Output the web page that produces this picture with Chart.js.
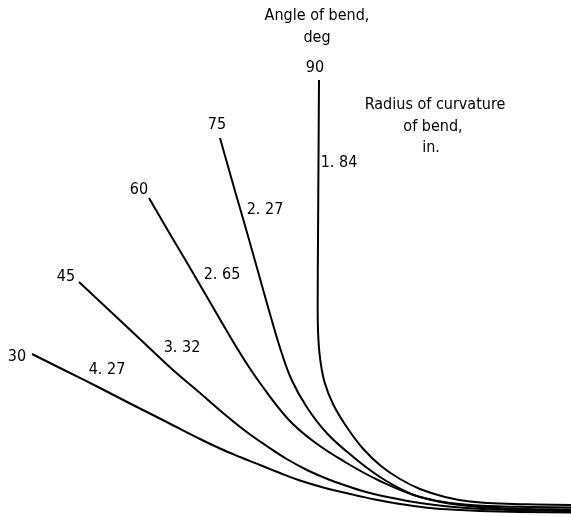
<!DOCTYPE html>
<html>
<head>
<meta charset="utf-8">
<script src="https://cdn.jsdelivr.net/npm/chart.js@4/dist/chart.umd.min.js"></script>
<style>
  html, body { margin: 0; padding: 0; background: #fff; }
  #wrap { width: 571px; height: 517px; }
</style>
</head>
<body>
<div id="wrap"><canvas id="chart" width="571" height="517"></canvas></div>
<script>
// bend angles (deg) and radius of curvature (in.)
const angles = ["30", "45", "60", "75", "90"];
const radii = ["4. 27", "3. 32", "2. 65", "2. 27", "1. 84"];

// traced centre lines of each bent tube, in picture units (x right, y down)
const bend30 = [[32,354],[66,371],[100,388],[133,405],[166.7,422],[200,439],[220,448.5],[240,457],[260,465],[280,473],[300,480.5],[325,488],[350,494],[375,499.5],[400,504],[425,507.5],[450,509.5],[480,511],[520,512],[571,512.5]];
const bend45 = [[79,282],[110,311],[142,341],[173,370],[200,393],[226.7,416],[246.7,432],[266.7,446],[286.7,459],[308,470.5],[330,480],[350,487],[370,493],[395,498.5],[420,503],[460,507.5],[510,510],[571,511]];
const bend60 = [[149,198],[167.6,230],[186,261],[204.7,293],[223.3,325],[240,353],[260,383],[288,419],[313,441],[345,462],[380,481],[420,497],[460,505],[510,508.5],[571,509.5]];
const bend75 = [[220,138],[233,184],[246,229],[259,275],[271.7,320],[281.7,353],[291.7,380],[306.7,407],[326.7,433],[353.3,457],[380,477],[406.7,492],[420,497],[450,503],[490,506],[530,507],[571,507.5]];
const bend90 = [[319,80],[318.5,160],[318,240],[317.7,300],[318,330],[319.8,356],[324.5,382],[333.5,405],[346.7,427],[363.3,449],[381,466],[400,479],[420,489],[445,497],[470,501.5],[500,503.5],[535,504.5],[571,505]];

// label anchors
const angleLabelPos = [[17,357],[66,277],[139,190],[217,125],[315,68]];
const radiusLabelPos = [[107,370],[182,348],[222,275],[265,210],[339,163]];
const titleAngle = ["Angle of bend,", "deg"];
const titleAnglePos = [[317,16],[317,38]];
const titleRadius = ["Radius of curvature", "of bend,", "in."];
const titleRadiusPos = [[435,105],[433,127],[431,148]];

const curves = [bend30, bend45, bend60, bend75, bend90];
const FONT = '16px "Liberation Sans Narrow", "DejaVu Sans Condensed", sans-serif';

const labelPlugin = {
  id: "bendLabels",
  afterDatasetsDraw(chart) {
    const { ctx, scales } = chart;
    const px = p => [scales.x.getPixelForValue(p[0]), scales.y.getPixelForValue(p[1])];
    ctx.save();
    ctx.fillStyle = "#000";
    ctx.font = FONT;
    ctx.textAlign = "center";
    ctx.textBaseline = "middle";
    const put = (txt, p) => { const q = px(p); ctx.fillText(txt, q[0], q[1]); };
    angles.forEach((a, i) => put(a, angleLabelPos[i]));
    radii.forEach((r, i) => put(r, radiusLabelPos[i]));
    titleAngle.forEach((t, i) => put(t, titleAnglePos[i]));
    titleRadius.forEach((t, i) => put(t, titleRadiusPos[i]));
    ctx.restore();
  }
};

new Chart(document.getElementById("chart"), {
  type: "scatter",
  data: {
    datasets: curves.map((c, i) => ({
      label: angles[i],
      data: c.map(p => ({ x: p[0], y: p[1] })),
      showLine: true,
      borderColor: "#000",
      borderWidth: 2,
      pointRadius: 0,
      tension: 0.4,
      fill: false,
    })),
  },
  options: {
    responsive: false,
    animation: false,
    layout: { padding: 0 },
    scales: {
      x: { type: "linear", min: 0, max: 571, display: false },
      y: { type: "linear", min: 0, max: 517, reverse: true, display: false },
    },
    plugins: {
      legend: { display: false },
      tooltip: { enabled: false },
    },
  },
  plugins: [labelPlugin],
});
</script>
</body>
</html>
